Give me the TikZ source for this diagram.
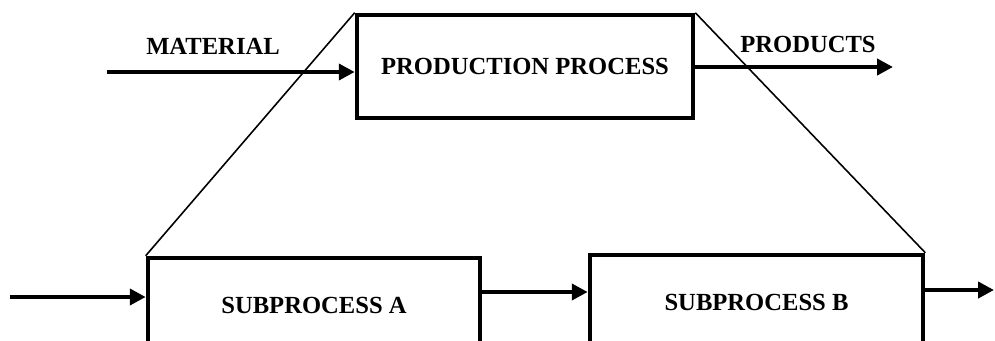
\documentclass[tikz,border=0pt]{standalone}
\usepackage{fontspec}
\setmainfont{Liberation Serif}
\usepackage{tikz}
\usetikzlibrary{arrows.meta,positioning}
\tikzset{
  procbox/.style={draw, line width=2.6pt, align=center, inner sep=2pt,
        font=\fontsize{14}{16}\selectfont\bfseries},
  flow/.style={-{Triangle[length=9pt,width=9pt]}, line width=2.4pt},
  zoomline/.style={line width=0.9pt},
  flab/.style={font=\fontsize{14}{16}\selectfont\bfseries, inner sep=1pt},
}
\begin{document}
\begin{tikzpicture}
  \clip (0,0) rectangle (19.9,6.8);
  % whole process
  \node[procbox, minimum width=6.72cm, minimum height=2.06cm] (proc) at (10.5,5.47)
    {PRODUCTION PROCESS};
  % its subprocesses (cut off at the bottom)
  \node[procbox, minimum width=6.64cm, minimum height=1.88cm] (subA) at (6.28,0.7)
    {SUBPROCESS A};
  \node[procbox, minimum width=6.66cm, minimum height=1.88cm] (subB) at (15.13,0.76)
    {SUBPROCESS B};
  \coordinate (matin) at (2.14,5.36);
  \coordinate (prodout) at (17.86,5.46);
  \coordinate (subin) at (0.2,0.86);
  \coordinate (subout) at (19.88,1.0);
  \draw[zoomline] (proc.north west) -- (subA.north west);
  \draw[zoomline] (proc.north east) -- (subB.north east);
  \draw[flow] (matin) -- (matin -| proc.west);
  \draw[flow] (proc.east |- prodout) -- (prodout);
  \node[flab] (matlab) at (4.26,5.88) {MATERIAL};
  \node[flab] (prodlab) at (16.16,5.92) {PRODUCTS};
  \draw[flow] (subin) -- (subin -| subA.west);
  \draw[flow] (subA.east |- 0,0.96) -- (subB.west |- 0,0.96);
  \draw[flow] (subB.east |- subout) -- (subout);
\end{tikzpicture}
\end{document}
